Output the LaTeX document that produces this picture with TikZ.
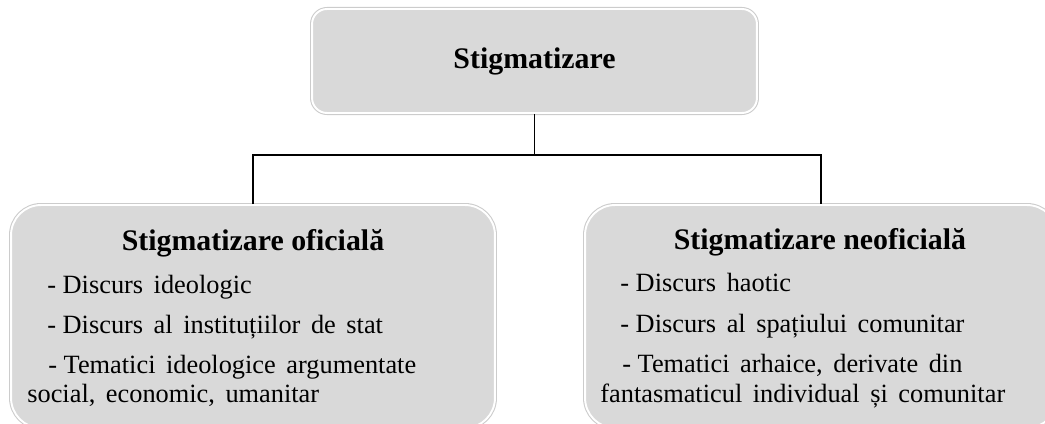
\documentclass[tikz,border=0pt]{standalone}
\usepackage{fontspec}
\setmainfont{Liberation Serif}
\usepackage{xcolor}
\usepackage{tikz}
\usetikzlibrary{positioning}

\definecolor{boxgray}{HTML}{D9D9D9}

\tikzset{
  panel/.style={rounded corners=#1, fill=boxgray, draw=white, line width=1.1pt,
    preaction={draw=gray!40, line width=2.3pt}, inner sep=0pt},
  panel/.default=0.6cm,
  head/.style={font=\bfseries\fontsize{17}{20}\selectfont, inner sep=0pt, anchor=base},
  item/.style={font={\fontsize{15}{18}\selectfont\spaceskip=0.4em plus 0.1em},
    inner sep=0pt, anchor=base west},
  link/.style={line width=1.1pt, black}
}

\begin{document}
\begin{tikzpicture}[x=0.02cm,y=-0.02cm]
\useasboundingbox (0,0) rectangle (1045,423);
\clip (0,0) rectangle (1045,423);

% boxes
\node[panel=0.3cm, minimum width=8.9cm, minimum height=2.08cm,
  font=\bfseries\fontsize{17}{20}\selectfont] (root) at (534.5,61) {Stigmatizare};
\node[panel, minimum width=9.68cm, minimum height=4.46cm] (left) at (253,316.5) {};
\node[panel, minimum width=9.44cm, minimum height=4.46cm] (right) at (821,316.5) {};

% connectors
\coordinate (split) at (534.5,155);
\draw[link] (root.south) -- (split);
\draw[link] (left.north) |- (split) -| (right.north);

% official
\node[head] (lt) at (253,250) {Stigmatizare oficială};
\node[item] (l1) at (47,293) {-\hspace{0.25em}Discurs ideologic};
\node[item] (l2) at (47,333) {-\hspace{0.25em}Discurs al instituțiilor de stat};
\node[item] (l3) at (48,373) {-\hspace{0.25em}Tematici ideologice argumentate};
\node[item] (l4) at (27,402) {social, economic, umanitar};

% unofficial
\node[head] (rt) at (820,249) {Stigmatizare neoficială};
\node[item] (r1) at (620,291) {-\hspace{0.25em}Discurs haotic};
\node[item] (r2) at (620,332) {-\hspace{0.25em}Discurs al spațiului comunitar};
\node[item] (r3) at (622,372) {-\hspace{0.25em}Tematici arhaice, derivate din};
\node[item] (r4) at (600,402) {fantasmaticul individual și comunitar};
\end{tikzpicture}
\end{document}
